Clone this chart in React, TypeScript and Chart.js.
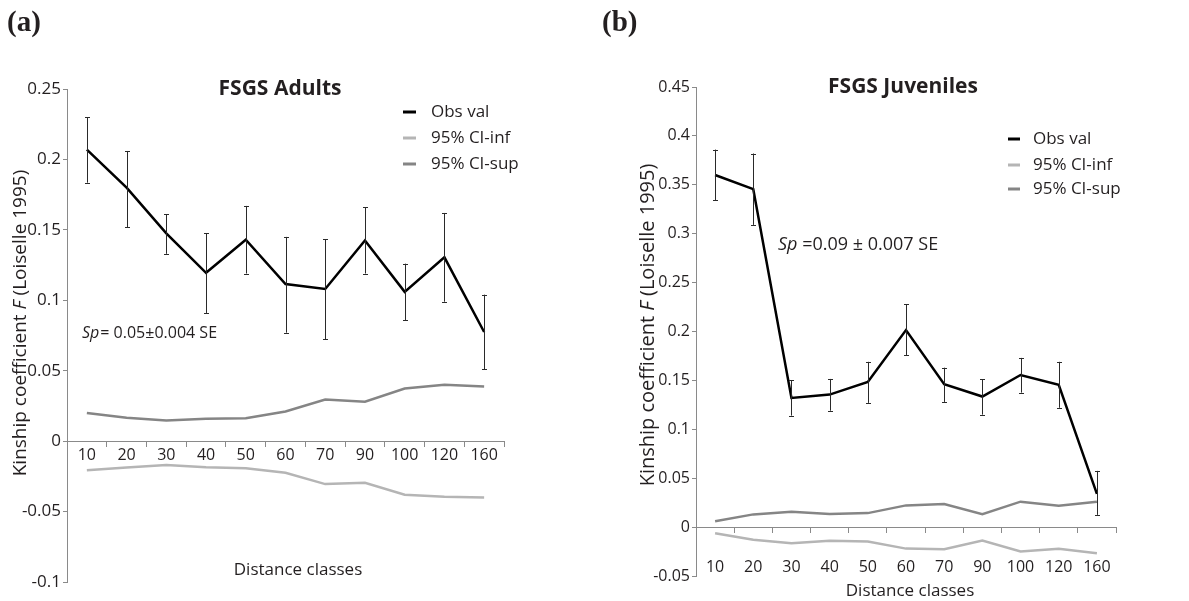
import React, { useEffect, useRef } from 'react';
import { Chart, registerables } from 'chart.js';

Chart.register(...registerables);

// ---------- data ----------
const distanceClasses = ['10', '20', '30', '40', '50', '60', '70', '90', '100', '120', '160'];

const adultsObs = [0.207, 0.18, 0.1475, 0.1195, 0.143, 0.1115, 0.108, 0.1425, 0.106, 0.1305, 0.0775];
const adultsErrHigh = [0.23, 0.206, 0.161, 0.1475, 0.167, 0.145, 0.1435, 0.166, 0.126, 0.162, 0.104];
const adultsErrLow = [0.1835, 0.152, 0.133, 0.091, 0.119, 0.077, 0.0725, 0.119, 0.086, 0.099, 0.051];
const adultsCiSup = [0.02, 0.0166, 0.0147, 0.0159, 0.0163, 0.0211, 0.0296, 0.028, 0.0374, 0.04, 0.0388];
const adultsCiInf = [-0.0206, -0.0187, -0.017, -0.0185, -0.0192, -0.0225, -0.0305, -0.0296, -0.038, -0.0395, -0.04];

const juvObs = [0.36, 0.3455, 0.132, 0.1355, 0.1485, 0.2015, 0.146, 0.1335, 0.1555, 0.1455, 0.034];
const juvErrHigh = [0.386, 0.382, 0.15, 0.1515, 0.169, 0.228, 0.163, 0.151, 0.173, 0.169, 0.0575];
const juvErrLow = [0.334, 0.309, 0.114, 0.119, 0.127, 0.176, 0.128, 0.115, 0.1375, 0.122, 0.0125];
const juvCiSup = [0.006, 0.013, 0.0157, 0.0133, 0.0143, 0.0222, 0.0235, 0.0133, 0.026, 0.0218, 0.026];
const juvCiInf = [-0.0062, -0.013, -0.0164, -0.014, -0.0147, -0.022, -0.0226, -0.0137, -0.025, -0.0222, -0.0267];

const seriesNames = ['Obs val', '95% CI-inf', '95% CI-sup'];
const seriesColors = ['#000000', '#b5b5b5', '#858585'];

const FONT = '"Open Sans", sans-serif';
const TEXT = '#231f20';
const AXIS = '#8a8a8a';

type Panel = {
  letter: string;
  title: string;
  obs: number[];
  hi: number[];
  lo: number[];
  sup: number[];
  inf: number[];
  yMin: number;
  yMax: number;
  canvasW: number;
  area: { left: number; top: number; right: number; bottom: number };
  xLabelPad: number;
  yTickSize: number;
  titlePos: [number, number, number];
  legend: { x0: number; x1: number; tx: number; ys: number[]; size: number };
  sp: { x: number; y: number; size: number; gap: number; rest: string };
  xTitle: [number, number, number];
  yTitle: [number, number, number];
};

const panels: Panel[] = [
  {
    letter: '(a)',
    title: 'FSGS Adults',
    obs: adultsObs,
    hi: adultsErrHigh,
    lo: adultsErrLow,
    sup: adultsCiSup,
    inf: adultsCiInf,
    yMin: -0.1,
    yMax: 0.25,
    canvasW: 595,
    area: { left: 67, top: 89, right: 504, bottom: 582 },
    xLabelPad: 0,
    yTickSize: 17,
    titlePos: [280, 89, 21],
    legend: { x0: 403, x1: 416, tx: 431, ys: [112, 138, 164], size: 17 },
    sp: { x: 82, y: 333, size: 16, gap: 1, rest: '= 0.05\u00b10.004 SE' },
    xTitle: [298, 570, 17],
    yTitle: [21, 323, 19],
  },
  {
    letter: '(b)',
    title: 'FSGS Juveniles',
    obs: juvObs,
    hi: juvErrHigh,
    lo: juvErrLow,
    sup: juvCiSup,
    inf: juvCiInf,
    yMin: -0.05,
    yMax: 0.45,
    canvasW: 594,
    area: { left: 101, top: 87, right: 521, bottom: 576 },
    xLabelPad: 26,
    yTickSize: 16,
    titlePos: [308, 87, 21],
    legend: { x0: 413, x1: 425, tx: 438, ys: [139, 165, 189], size: 17 },
    sp: { x: 183, y: 245, size: 18, gap: 0, rest: ' =0.09 \u00b1 0.007 SE' },
    xTitle: [315, 591, 17],
    yTitle: [53, 325, 20],
  },
];

function fmt(v: number): string {
  const n = parseFloat(v.toFixed(2));
  return (n === 0 ? 0 : n).toString();
}

function makePlugin(p: Panel) {
  return {
    id: 'deco',
    afterDatasetsDraw(chart: any) {
      const ctx = chart.ctx as CanvasRenderingContext2D;
      const xs = chart.scales.x;
      const ys = chart.scales.y;
      ctx.save();
      ctx.strokeStyle = '#2a2a2a';
      ctx.lineWidth = 1;
      for (let i = 0; i < p.obs.length; i++) {
        const x = Math.round(xs.getPixelForValue(i)) + 0.5;
        const yh = ys.getPixelForValue(p.hi[i]);
        const yl = ys.getPixelForValue(p.lo[i]);
        ctx.beginPath();
        ctx.moveTo(x, yh);
        ctx.lineTo(x, yl);
        ctx.moveTo(x - 2.5, Math.round(yh) + 0.5);
        ctx.lineTo(x + 2.5, Math.round(yh) + 0.5);
        ctx.moveTo(x - 2.5, Math.round(yl) + 0.5);
        ctx.lineTo(x + 2.5, Math.round(yl) + 0.5);
        ctx.stroke();
      }
      ctx.restore();
    },
    afterDraw(chart: any) {
      const ctx = chart.ctx as CanvasRenderingContext2D;
      ctx.save();
      ctx.fillStyle = TEXT;
      ctx.textBaseline = 'middle';

      // panel letter
      ctx.font = 'bold 29px "Liberation Serif", "Times New Roman", serif';
      ctx.textAlign = 'left';
      ctx.fillText(p.letter, 7, 24);

      // title
      ctx.font = `bold ${p.titlePos[2]}px ${FONT}`;
      ctx.textAlign = 'center';
      ctx.fillText(p.title, p.titlePos[0], p.titlePos[1]);

      // legend
      const L = p.legend;
      ctx.textAlign = 'left';
      ctx.font = `${L.size}px ${FONT}`;
      for (let i = 0; i < seriesNames.length; i++) {
        ctx.strokeStyle = seriesColors[i];
        ctx.lineWidth = 3;
        ctx.beginPath();
        ctx.moveTo(L.x0, L.ys[i]);
        ctx.lineTo(L.x1, L.ys[i]);
        ctx.stroke();
        ctx.fillText(seriesNames[i], L.tx, L.ys[i]);
      }

      // Sp annotation
      ctx.font = `italic ${p.sp.size}px ${FONT}`;
      ctx.fillText('Sp', p.sp.x, p.sp.y);
      const w = ctx.measureText('Sp').width;
      ctx.font = `${p.sp.size}px ${FONT}`;
      ctx.fillText(p.sp.rest, p.sp.x + w + p.sp.gap, p.sp.y);

      // x title
      ctx.textAlign = 'center';
      ctx.font = `${p.xTitle[2]}px ${FONT}`;
      ctx.fillText('Distance classes', p.xTitle[0], p.xTitle[1]);

      // y title (rotated, with italic F)
      const size = p.yTitle[2];
      const parts: [string, string][] = [
        ['Kinship coefficient ', `${size}px ${FONT}`],
        ['F', `italic ${size}px ${FONT}`],
        [' (Loiselle 1995)', `${size}px ${FONT}`],
      ];
      let total = 0;
      const widths = parts.map(([t, f]) => {
        ctx.font = f;
        const m = ctx.measureText(t).width;
        total += m;
        return m;
      });
      ctx.translate(p.yTitle[0], p.yTitle[1]);
      ctx.rotate(-Math.PI / 2);
      ctx.textAlign = 'left';
      let cx = -total / 2;
      parts.forEach(([t, f], i) => {
        ctx.font = f;
        ctx.fillText(t, cx, 0);
        cx += widths[i];
      });
      ctx.restore();
    },
  };
}

function ChartPanel({ panel, left }: { panel: Panel; left: number }) {
  const ref = useRef<HTMLCanvasElement | null>(null);
  useEffect(() => {
    if (!ref.current) return;
    const p = panel;
    const H = 601;
    const chart = new Chart(ref.current, {
      type: 'line',
      data: {
        labels: distanceClasses,
        datasets: [
          { label: seriesNames[0], data: p.obs, borderColor: seriesColors[0], borderWidth: 2.5 },
          { label: seriesNames[1], data: p.inf, borderColor: seriesColors[1], borderWidth: 2.5 },
          { label: seriesNames[2], data: p.sup, borderColor: seriesColors[2], borderWidth: 2.5 },
        ],
      },
      options: {
        responsive: false,
        animation: false,
        devicePixelRatio: 1,
        elements: { point: { radius: 0, hoverRadius: 0 }, line: { tension: 0 } },
        layout: {
          padding: {
            left: 0,
            top: p.area.top,
            right: p.canvasW - p.area.right,
            bottom: H - p.area.bottom,
          },
        },
        plugins: { legend: { display: false }, title: { display: false }, tooltip: { enabled: false } },
        scales: {
          x: {
            type: 'category',
            position: { y: 0 } as any,
            offset: true,
            grid: { offset: true, drawOnChartArea: false, tickLength: 5, color: AXIS, lineWidth: 1 },
            border: { color: AXIS, width: 1 },
            ticks: {
              padding: p.xLabelPad,
              color: TEXT,
              font: { family: FONT, size: 16 },
              maxRotation: 0,
              autoSkip: false,
            },
          },
          y: {
            type: 'linear',
            position: 'left',
            min: p.yMin,
            max: p.yMax,
            afterFit: (s: any) => {
              s.width = p.area.left;
            },
            grid: { drawOnChartArea: false, tickLength: 4, color: AXIS },
            border: { color: AXIS, width: 1 },
            ticks: {
              stepSize: 0.05,
              padding: 2,
              color: TEXT,
              font: { family: FONT, size: p.yTickSize },
              callback: (v: any) => fmt(Number(v)),
            },
          },
        },
      } as any,
      plugins: [makePlugin(p)],
    });
    return () => chart.destroy();
  }, [panel]);
  return (
    <canvas
      ref={ref}
      width={panel.canvasW}
      height={601}
      style={{ position: 'absolute', left, top: 0, width: panel.canvasW, height: 601 }}
    />
  );
}

export default function App() {
  return (
    <div style={{ position: 'fixed', left: 0, top: 0, width: 1189, height: 601, background: '#ffffff', overflow: 'hidden' }}>
      <ChartPanel panel={panels[0]} left={0} />
      <ChartPanel panel={panels[1]} left={595} />
    </div>
  );
}
